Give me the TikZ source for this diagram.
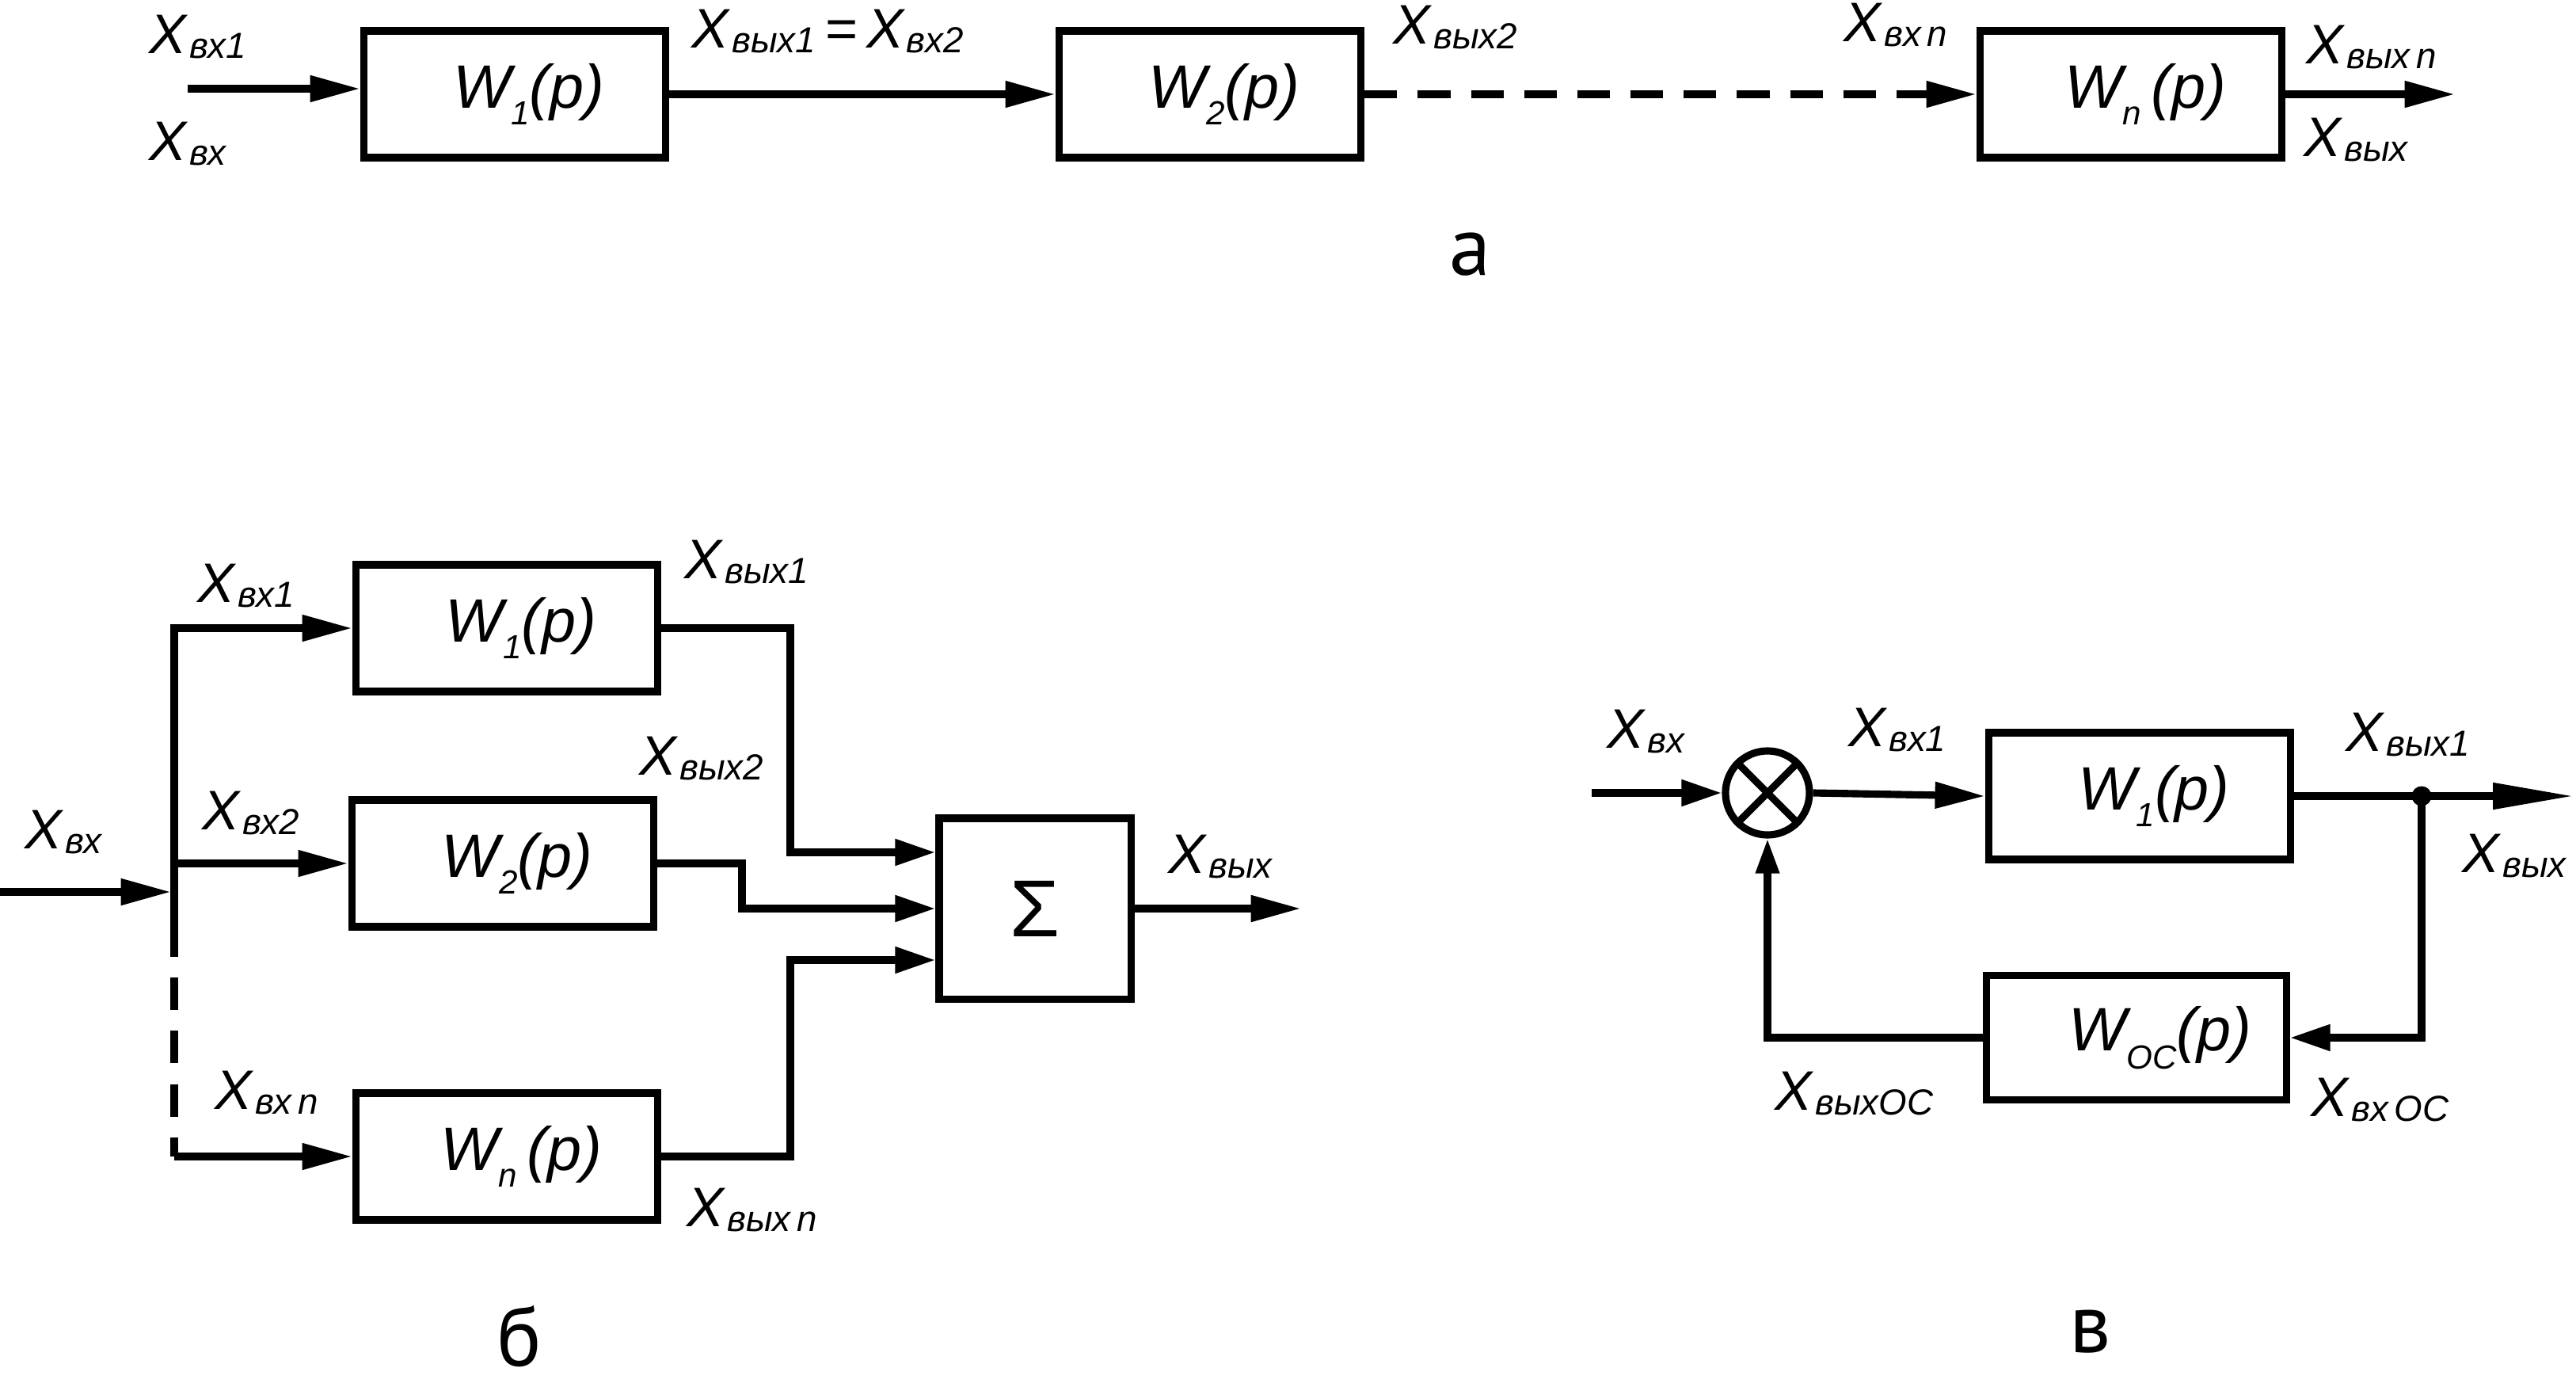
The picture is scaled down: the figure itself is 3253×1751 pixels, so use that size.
\documentclass[tikz,border=0pt]{standalone}
\usepackage{fontspec}
\setmainfont{Liberation Sans}
\newfontfamily\panelfont{PT Sans}
\usetikzlibrary{arrows.meta}
\newcommand\Xsub[1]{X\kern1pt\raisebox{-1.8pt}{\fontsize{13}{15}\selectfont #1}}
\newcommand\Wsub[1]{W\raisebox{-6pt}{\fontsize{12}{14}\selectfont #1}(p)}
\begin{document}
\begin{tikzpicture}[x=0.01cm, y=-0.01cm,
  ln/.style={line width=2.6pt},
  blk/.style={draw, line width=2.6pt, minimum width=3.81cm, minimum height=1.6cm, inner sep=0pt, font=\fontsize{22}{26}\selectfont\itshape},
  lbl/.style={inner sep=0pt, anchor=base west, font=\fontsize{20}{24}\selectfont\itshape},
  arr/.style={ln, -{Triangle[length=18pt,width=9pt]}},
  arrs/.style={ln, -{Triangle[length=14.5pt,width=9pt]}},
  arrl/.style={ln, -{Triangle[length=29pt,width=9pt]}},
  arrv/.style={ln, -{Triangle[length=12.5pt,width=8pt]}},
  dsh/.style={dash pattern=on 11.7pt off 7.4pt},
  pnl/.style={inner sep=0pt, anchor=base, font=\panelfont\fontsize{30}{36}\selectfont},
]
\useasboundingbox (0,0) rectangle (3253,1751);

% ---------- panel a ----------
\node[blk] (a1) at (650,119) {\hspace*{0.36cm}\Wsub{1}};
\node[blk] (a2) at (1528,119) {\hspace*{0.36cm}\Wsub{2}};
\node[blk] (an) at (2691,119) {\hspace*{0.36cm}W\raisebox{-6pt}{\fontsize{12}{14}\selectfont n}\,(p)};
\coordinate (ain) at (237,112);
\coordinate (aout) at (3100,119);
\draw[arr] (ain) -- (ain -| a1.west);
\draw[arr] (a1.east) -- (a2.west);
\draw[arr, dsh] (a2.east) -- (an.west);
\draw[arr] (an.east) -- (aout);
\node[lbl] (la1) at (188,67) {\Xsub{вх1}};
\node[lbl] (la2) at (188,202) {\Xsub{вх}};
\node[lbl] (la3) at (873,60) {\Xsub{вых1}\,=\,\Xsub{вх2}};
\node[lbl] (la4) at (1759,55) {\Xsub{вых2}};
\node[lbl] (la5) at (2328,52) {\Xsub{вх\,n}};
\node[lbl] (la6) at (2912,80) {\Xsub{вых\,n}};
\node[lbl] (la7) at (2909,197) {\Xsub{вых}};
\node[pnl] (pa) at (1857,347) {а};

% ---------- panel b ----------
\node[blk] (b1) at (640,793) {\hspace*{0.36cm}\Wsub{1}};
\node[blk] (b2) at (635,1090) {\hspace*{0.36cm}\Wsub{2}};
\node[blk] (bn) at (640,1460) {\hspace*{0.36cm}W\raisebox{-6pt}{\fontsize{12}{14}\selectfont n}\,(p)};
\node[draw, line width=2.6pt, minimum width=2.42cm, minimum height=2.28cm, inner sep=0pt, font=\fontsize{29}{34}\selectfont] (sig) at (1307,1147) {Σ};
\coordinate (bin) at (0,1126);
\coordinate (bj) at (216,1126);
\coordinate (btop) at (220,793);
\coordinate (bmid) at (220,1167);
\coordinate (bbot) at (220,1460);
\coordinate (bx1) at (998,1076);
\coordinate (bx2) at (937,1147);
\coordinate (bx3) at (998,1212);
\coordinate (bout) at (1643,1147);
\draw[arr] (bin) -- (bj);
\draw[arr] (bmid) -- (btop) -- (b1.west);
\draw[ln, dsh] (bmid) -- (bbot);
\draw[arr] (btop |- b2.west) -- (b2.west);
\draw[arr] (bbot) -- (bn.west);
\draw[arrs] (b1.east) -| (bx1) -- (bx1 -| sig.west);
\draw[arrs] (b2.east) -| (bx2) -- (bx2 -| sig.west);
\draw[arrs] (bn.east) -| (bx3) -- (bx3 -| sig.west);
\draw[arr] (sig.east) -- (bout);
\node[lbl] (lb1) at (31,1071) {\Xsub{вх}};
\node[lbl] (lb2) at (249,760) {\Xsub{вх1}};
\node[lbl] (lb3) at (255,1047) {\Xsub{вх2}};
\node[lbl] (lb4) at (271,1400) {\Xsub{вх\,n}};
\node[lbl] (lb5) at (864,730) {\Xsub{вых1}};
\node[lbl] (lb6) at (807,978) {\Xsub{вых2}};
\node[lbl] (lb7) at (867,1548) {\Xsub{вых\,n}};
\node[lbl] (lb8) at (1475,1102) {\Xsub{вых}};
\node[pnl] (pb) at (656,1724) {б};

% ---------- panel v ----------
\node[draw, circle, line width=2.6pt, minimum size=1.06cm, inner sep=0pt] (sum) at (2232,1001) {};
\draw[ln] (sum.north west) -- (sum.south east) (sum.north east) -- (sum.south west);
\node[blk] (v1) at (2702,1005) {\hspace*{0.36cm}\Wsub{1}};
\node[blk, minimum width=3.78cm, minimum height=1.57cm] (voc) at (2698,1310) {\hspace*{0.6cm}W\raisebox{-6.5pt}{\fontsize{12}{14}\selectfont ОС}(p)};
\node[circle, fill, minimum size=0.25cm, inner sep=0pt] (vd) at (3058,1005) {};
\coordinate (vin) at (2010,1001);
\coordinate (vout) at (3250,1005);
\draw[arrs] (vin) -- (sum.west);
\draw[arr] (sum.east) -- (v1.west);
\draw[arrl] (v1.east) -- (vout);
\draw[arrs] (vd.center) |- (voc.east);
\draw[arrv] (voc.west) -| (sum.south);
\node[lbl] (lv1) at (2029,944) {\Xsub{вх}};
\node[lbl] (lv2) at (2334,942) {\Xsub{вх1}};
\node[lbl] (lv3) at (2962,948) {\Xsub{вых1}};
\node[lbl] (lv4) at (3109,1101) {\Xsub{вых}};
\node[lbl] (lv5) at (2241,1401) {\Xsub{выхОС}};
\node[lbl] (lv6) at (2918,1409) {\Xsub{вх\,ОС}};
\node[pnl] (pv) at (2640,1707) {в};
\end{tikzpicture}
\end{document}
